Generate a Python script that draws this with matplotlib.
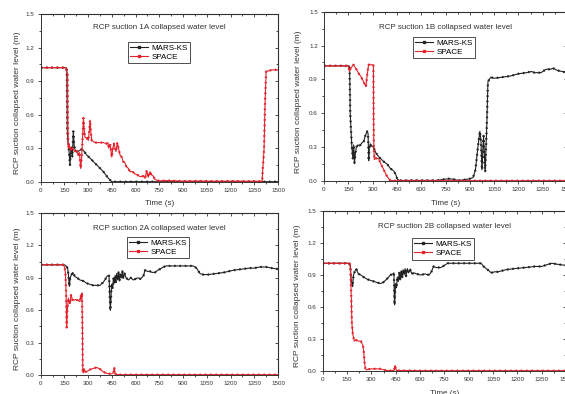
import matplotlib
matplotlib.use("Agg")
import matplotlib.pyplot as plt
from matplotlib.lines import Line2D
from matplotlib.ticker import MultipleLocator

plt.rcParams["font.family"] = ["Liberation Sans", "DejaVu Sans"]

# (time s, level m)
mars_1a = [(0, 1.02), (160, 1.02), (165, 1.0), (168, 0.46), (172, 0.36), (175, 0.34), (180, 0.25),
           (185, 0.15), (190, 0.28), (196, 0.31), (200, 0.22), (206, 0.45), (212, 0.32), (220, 0.27),
           (235, 0.27), (259, 0.29), (270, 0.28), (280, 0.26), (290, 0.24), (312, 0.21), (354, 0.15),
           (396, 0.09), (428, 0.03), (449, 0.0), (1500, 0.0)]
space_1a = [(0, 1.02), (160, 1.02), (165, 0.98), (170, 0.97), (172, 0.5), (175, 0.3), (180, 0.33),
            (190, 0.28), (200, 0.3), (215, 0.27), (230, 0.28), (238, 0.24), (245, 0.26), (250, 0.16),
            (253, 0.12), (259, 0.22), (265, 0.4), (270, 0.57), (276, 0.45), (280, 0.4), (290, 0.39),
            (301, 0.37), (307, 0.45), (312, 0.55), (317, 0.45), (322, 0.37), (343, 0.35), (370, 0.35),
            (396, 0.35), (417, 0.34), (425, 0.35), (430, 0.3), (440, 0.33), (449, 0.22), (456, 0.3),
            (463, 0.34), (470, 0.3), (476, 0.27), (484, 0.35), (492, 0.3), (501, 0.24), (512, 0.22),
            (522, 0.18), (532, 0.17), (543, 0.13), (554, 0.12), (564, 0.09), (580, 0.09), (596, 0.07),
            (612, 0.06), (628, 0.045), (649, 0.05), (660, 0.03), (670, 0.1), (680, 0.04), (691, 0.09),
            (701, 0.06), (712, 0.05), (722, 0.02), (740, 0.01), (754, 0.008), (800, 0.01), (900, 0.005),
            (1000, 0.006), (1100, 0.004), (1200, 0.005), (1300, 0.004), (1400, 0.004), (1403, 0.1),
            (1407, 0.18), (1412, 0.3), (1418, 0.7), (1425, 0.99), (1440, 0.99), (1460, 1.0), (1500, 1.0)]

mars_1b = [(0, 1.02), (155, 1.02), (158, 1.0), (162, 0.6), (166, 0.47), (172, 0.3), (178, 0.2),
           (183, 0.32), (188, 0.16), (194, 0.25), (200, 0.3), (209, 0.32), (220, 0.31), (235, 0.34),
           (245, 0.35), (255, 0.4), (265, 0.44), (272, 0.42), (276, 0.18), (280, 0.3), (286, 0.33),
           (292, 0.31), (305, 0.3), (320, 0.25), (335, 0.22), (348, 0.2), (370, 0.17), (390, 0.15),
           (410, 0.11), (430, 0.09), (445, 0.05), (451, 0.02), (458, 0.01), (465, 0.005), (500, 0.005),
           (600, 0.005), (700, 0.005), (740, 0.015), (770, 0.02), (800, 0.015), (830, 0.005), (860, 0.01),
           (900, 0.02), (920, 0.03), (935, 0.1), (950, 0.3), (962, 0.44), (969, 0.35), (975, 0.1),
           (985, 0.4), (995, 0.08), (1005, 0.5), (1012, 0.88), (1020, 0.9), (1030, 0.92), (1050, 0.91),
           (1100, 0.92), (1150, 0.93), (1200, 0.95), (1250, 0.96), (1280, 0.97), (1300, 0.96),
           (1340, 0.96), (1370, 0.99), (1400, 0.99), (1414, 1.0), (1440, 0.98), (1470, 0.97), (1500, 0.96)]
space_1b = [(0, 1.02), (150, 1.02), (157, 0.97), (165, 1.0), (182, 1.03), (200, 0.99), (213, 0.955),
            (230, 0.92), (244, 0.88), (259, 0.835), (265, 0.92), (275, 1.03), (290, 1.03), (305, 1.03),
            (306, 0.6), (308, 0.28), (311, 0.19), (320, 0.2), (337, 0.2), (348, 0.16), (362, 0.12),
            (379, 0.07), (389, 0.04), (410, 0.003), (500, 0.003), (700, 0.003), (900, 0.003),
            (1100, 0.003), (1300, 0.003), (1500, 0.003)]

mars_2a = [(0, 1.02), (150, 1.02), (160, 1.01), (170, 0.99), (175, 0.93), (181, 0.82), (186, 0.9),
           (195, 0.93), (202, 0.95), (210, 0.93), (217, 0.91), (230, 0.9), (248, 0.88), (270, 0.87),
           (290, 0.85), (310, 0.84), (333, 0.83), (355, 0.83), (375, 0.83), (396, 0.86), (410, 0.89),
           (417, 0.91), (425, 0.92), (432, 0.92), (436, 0.75), (440, 0.6), (444, 0.7), (448, 0.84),
           (455, 0.8), (460, 0.9), (465, 0.85), (470, 0.92), (475, 0.86), (480, 0.94), (486, 0.88),
           (492, 0.95), (498, 0.87), (504, 0.93), (510, 0.9), (516, 0.96), (522, 0.9), (530, 0.94),
           (540, 0.9), (554, 0.88), (570, 0.9), (585, 0.88), (600, 0.89), (615, 0.9), (630, 0.89),
           (638, 0.9), (650, 0.92), (659, 0.97), (675, 0.96), (690, 0.96), (705, 0.95), (722, 0.95),
           (740, 0.97), (754, 0.98), (775, 1.0), (796, 1.01), (850, 1.01), (900, 1.01), (964, 1.01),
           (985, 0.99), (1006, 0.94), (1027, 0.93), (1060, 0.93), (1112, 0.94), (1160, 0.95),
           (1217, 0.97), (1270, 0.98), (1322, 0.99), (1350, 0.99), (1385, 1.0), (1427, 1.0),
           (1460, 0.99), (1500, 0.98)]
space_2a = [(0, 1.02), (143, 1.02), (150, 1.0), (156, 0.95), (160, 0.8), (164, 0.44), (168, 0.6),
            (175, 0.71), (180, 0.68), (185, 0.66), (192, 0.74), (200, 0.7), (206, 0.69), (220, 0.7),
            (235, 0.69), (248, 0.68), (253, 0.74), (257, 0.71), (261, 0.76), (264, 0.4), (266, 0.03),
            (270, 0.02), (274, 0.06), (282, 0.03), (290, 0.03), (300, 0.04), (311, 0.05), (330, 0.06),
            (354, 0.07), (375, 0.055), (395, 0.03), (417, 0.015), (448, 0.01), (460, 0.02), (465, 0.07),
            (470, 0.02), (474, 0.005), (500, 0.003), (600, 0.003), (800, 0.003), (1000, 0.003),
            (1200, 0.003), (1500, 0.003)]

mars_2b = [(0, 1.01), (160, 1.01), (170, 0.99), (176, 0.85), (184, 0.79), (190, 0.9), (197, 0.93),
           (207, 0.96), (214, 0.93), (221, 0.91), (235, 0.9), (253, 0.88), (275, 0.86), (294, 0.85),
           (315, 0.84), (335, 0.83), (356, 0.82), (372, 0.83), (387, 0.85), (400, 0.87), (418, 0.9),
           (432, 0.91), (439, 0.92), (441, 0.75), (443, 0.62), (446, 0.72), (449, 0.82), (455, 0.78),
           (460, 0.88), (466, 0.84), (472, 0.92), (478, 0.86), (484, 0.94), (490, 0.88), (496, 0.95),
           (502, 0.9), (508, 0.96), (514, 0.89), (522, 0.96), (530, 0.92), (540, 0.95), (550, 0.91),
           (563, 0.92), (580, 0.91), (604, 0.9), (630, 0.91), (656, 0.9), (670, 0.93), (683, 0.98),
           (700, 0.97), (729, 0.97), (750, 0.99), (770, 1.01), (850, 1.01), (977, 1.01), (992, 0.98),
           (1008, 0.96), (1025, 0.94), (1039, 0.92), (1060, 0.93), (1081, 0.93), (1130, 0.95),
           (1184, 0.96), (1250, 0.97), (1308, 0.98), (1350, 0.98), (1390, 1.0), (1412, 1.01),
           (1450, 1.0), (1500, 0.99)]
space_2b = [(0, 1.01), (165, 1.01), (170, 0.99), (176, 0.71), (180, 0.45), (186, 0.34), (195, 0.28),
            (205, 0.29), (221, 0.28), (235, 0.28), (242, 0.26), (248, 0.24), (253, 0.18), (258, 0.08),
            (263, 0.025), (269, 0.01), (280, 0.015), (294, 0.02), (320, 0.02), (356, 0.02), (380, 0.01),
            (398, 0.003), (440, 0.005), (446, 0.05), (449, 0.03), (455, 0.005), (600, 0.003),
            (800, 0.003), (1000, 0.003), (1200, 0.003), (1500, 0.003)]

panel_names = ["1A", "1B", "2A", "2B"]
series_mars = [mars_1a, mars_1b, mars_2a, mars_2b]
series_space = [space_1a, space_1b, space_2a, space_2b]

BLACK = "#222222"
RED = "#e3222b"
GREY = "#333333"

W, H = 565, 394
# axes boxes in pixels: left, right, top, bottom
boxes = [(40.7, 278, 14, 181.7), (324, 567, 11.7, 181),
         (40.7, 278, 213, 375), (322.7, 566, 211, 371)]
title_y = [0.917, 0.904, 0.907, 0.900]
legend_xy = [(0.368, 0.833), (0.366, 0.85), (0.364, 0.852), (0.367, 0.83)]
xlabel_y = [-0.11, -0.11, -0.12, -0.12]
ylabel_x = [-0.083, -0.09, -0.083, -0.09]

fig = plt.figure(figsize=(W / 100, H / 100), dpi=100)


def draw_series(ax, pts, color):
    t, y = zip(*pts)
    ax.plot(t, y, color=color, lw=0.8)
    # Origin の「線+シンボル」風：太い短破線を重ねて点列に見せる
    ax.plot(t, y, color=color, lw=1.6, linestyle=(0, (0.7, 1.7)), dash_capstyle="butt")


for i, name in enumerate(panel_names):
    l, r, t, b = boxes[i]
    ax = fig.add_axes([l / W, 1 - b / H, (r - l) / W, (b - t) / H])

    draw_series(ax, series_mars[i], BLACK)
    draw_series(ax, series_space[i], RED)

    ax.set_xlim(0, 1500)
    ax.set_ylim(0, 1.5)
    ax.xaxis.set_major_locator(MultipleLocator(150))
    ax.xaxis.set_minor_locator(MultipleLocator(75))
    ax.yaxis.set_major_locator(MultipleLocator(0.3))
    ax.yaxis.set_minor_locator(MultipleLocator(0.15))
    ax.yaxis.set_major_formatter(lambda v, p: f"{v:.1f}")

    ax.tick_params(which="both", direction="out", labelsize=4.5, width=0.6, pad=2, colors=GREY)
    ax.tick_params(which="major", length=2.5)
    ax.tick_params(which="minor", length=1.5)
    for s in ax.spines.values():
        s.set_linewidth(0.7)
        s.set_color(GREY)

    # 上・右の目盛りは内向き
    top = ax.secondary_xaxis("top")
    top.xaxis.set_major_locator(MultipleLocator(150))
    top.xaxis.set_minor_locator(MultipleLocator(75))
    top.tick_params(which="both", direction="in", labeltop=False, width=0.6, colors=GREY)
    top.tick_params(which="major", length=2.5)
    top.tick_params(which="minor", length=1.5)
    right = ax.secondary_yaxis("right")
    right.yaxis.set_major_locator(MultipleLocator(0.3))
    right.yaxis.set_minor_locator(MultipleLocator(0.15))
    right.tick_params(which="both", direction="in", labelright=False, width=0.6, colors=GREY)
    right.tick_params(which="major", length=2.5)
    right.tick_params(which="minor", length=1.5)

    ax.text(0.5, title_y[i], f"RCP suction {name} collapsed water level",
            transform=ax.transAxes, ha="center", va="center", fontsize=5.8, color=GREY)
    ax.set_xlabel("Time (s)", fontsize=5.8, color=GREY)
    ax.xaxis.set_label_coords(0.5, xlabel_y[i])
    ax.set_ylabel("RCP suction collapsed water level (m)", fontsize=6, color=GREY)
    ax.yaxis.set_label_coords(ylabel_x[i], 0.47)

    handles = [Line2D([], [], color=BLACK, lw=0.8, marker="s", ms=1.6),
               Line2D([], [], color=RED, lw=0.8, marker="s", ms=1.6)]
    leg = ax.legend(handles, ["MARS-KS", "SPACE"], loc="upper left",
                    bbox_to_anchor=legend_xy[i], fontsize=5.8, frameon=True, fancybox=False,
                    framealpha=1, edgecolor=GREY, handlelength=2.2, handletextpad=0.4,
                    labelspacing=0.15, borderpad=0.3, borderaxespad=0)
    leg.get_frame().set_linewidth(0.6)

fig.savefig("out.png", dpi=100)
